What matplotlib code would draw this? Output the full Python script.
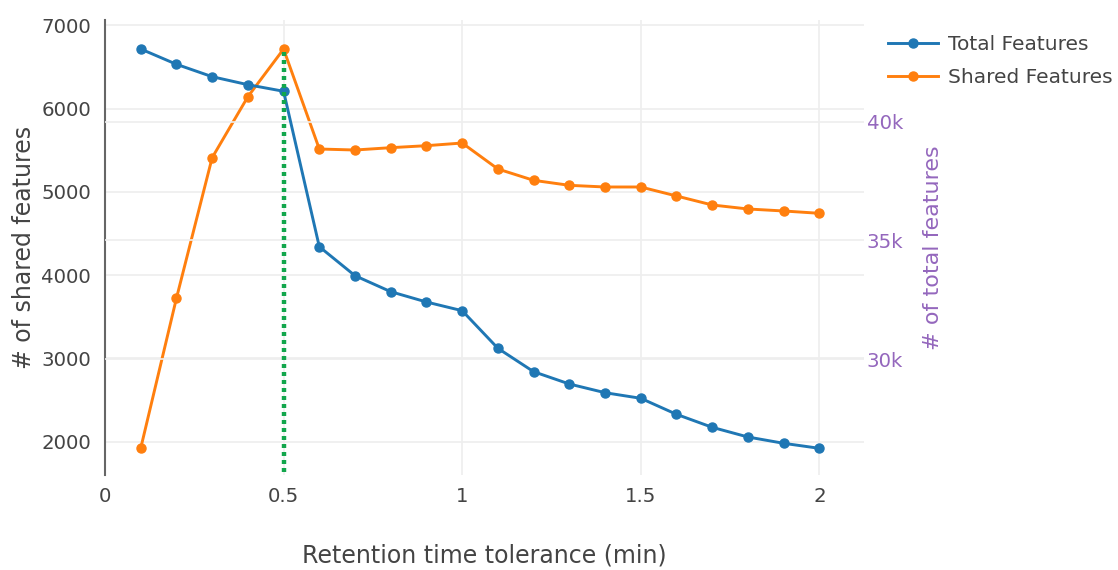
import matplotlib
matplotlib.use("Agg")
from matplotlib import pyplot as plt

plt.rcParams['font.family'] = ['DejaVu Sans']

# data
tolerance = [0.1, 0.2, 0.3, 0.4, 0.5, 0.6, 0.7, 0.8, 0.9, 1.0,
             1.1, 1.2, 1.3, 1.4, 1.5, 1.6, 1.7, 1.8, 1.9, 2.0]
total_features = [43060, 42416, 41894, 41557, 41280, 34739, 33518, 32845, 32411, 32045,
                  30462, 29478, 28960, 28594, 28358, 27684, 27137, 26729, 26464, 26253]
shared_features = [1922, 3723, 5411, 6143, 6715, 5515, 5503, 5531, 5555, 5587,
                   5275, 5139, 5079, 5059, 5059, 4951, 4843, 4795, 4771, 4743]
best_tol = 0.5
left_ticks = [2000, 3000, 4000, 5000, 6000, 7000]
right_ticks = [30000, 35000, 40000]
right_labels = ["30k", "35k", "40k"]
x_ticks = [0, 0.5, 1, 1.5, 2]
x_labels = ["0", "0.5", "1", "1.5", "2"]

blue = "#1f77b4"
orange = "#ff7f0e"
purple = "#9467bd"
text_c = "#444444"
grid_c = "#eeeeee"

fig = plt.figure(figsize=(11.18, 5.70), dpi=100)
ax1 = fig.add_axes([105 / 1118, 1 - 475 / 570, (864 - 105) / 1118, (475 - 20) / 570])
ax2 = ax1.twinx()  # 右轴: total features

ax1.set_xlim(0, 2.125)
ax1.set_ylim(1601, 7064)
ax2.set_ylim(25130, 44280)

l2, = ax1.plot(tolerance, shared_features, color=orange, lw=2.1, marker="o", ms=6.5,
               label="Shared Features", zorder=3)
l1, = ax2.plot(tolerance, total_features, color=blue, lw=2.1, marker="o", ms=6.5,
               label="Total Features", zorder=3)

# green dotted marker at chosen tolerance (drawn on top)
ax2.plot([best_tol, best_tol], [1640, max(shared_features)], transform=ax1.transData,
         color="#12a64c", lw=3.2, linestyle=(0, (0.9, 0.9)), zorder=5)

ax1.set_xticks(x_ticks)
ax1.set_xticklabels(x_labels)
ax1.set_yticks(left_ticks)
ax2.set_yticks(right_ticks)
ax2.set_yticklabels(right_labels)

ax1.tick_params(axis="both", length=0, labelsize=14.2, labelcolor=text_c)
ax1.tick_params(axis="x", pad=9)
ax1.tick_params(axis="y", pad=10)
ax2.tick_params(axis="y", length=0, labelsize=14.2, labelcolor=purple, pad=2)

ax1.grid(True, color=grid_c, lw=1.2)
ax2.grid(True, axis="y", color=grid_c, lw=1.2)
ax1.set_axisbelow(True)
ax2.set_axisbelow(True)

for ax in (ax1, ax2):
    for s in ("top", "right", "bottom"):
        ax.spines[s].set_visible(False)
ax2.spines["left"].set_visible(False)
ax1.spines["left"].set_color("#666666")
ax1.spines["left"].set_linewidth(1.5)

ax1.set_ylabel("# of shared features", fontsize=17, color=text_c, labelpad=4)
ax2.set_ylabel("# of total features", fontsize=16, color=purple, labelpad=14)
ax1.set_xlabel("Retention time tolerance (min)", fontsize=17, color=text_c, labelpad=27)

fig.legend([l1, l2], ["Total Features", "Shared Features"], loc="upper left",
           bbox_to_anchor=(888 / 1118, 1 - 35 / 570), frameon=False, fontsize=14.5,
           labelcolor=text_c, handlelength=2.5, handletextpad=0.5, labelspacing=0.68,
           borderaxespad=0, borderpad=0)

fig.savefig("out.png", dpi=100)
